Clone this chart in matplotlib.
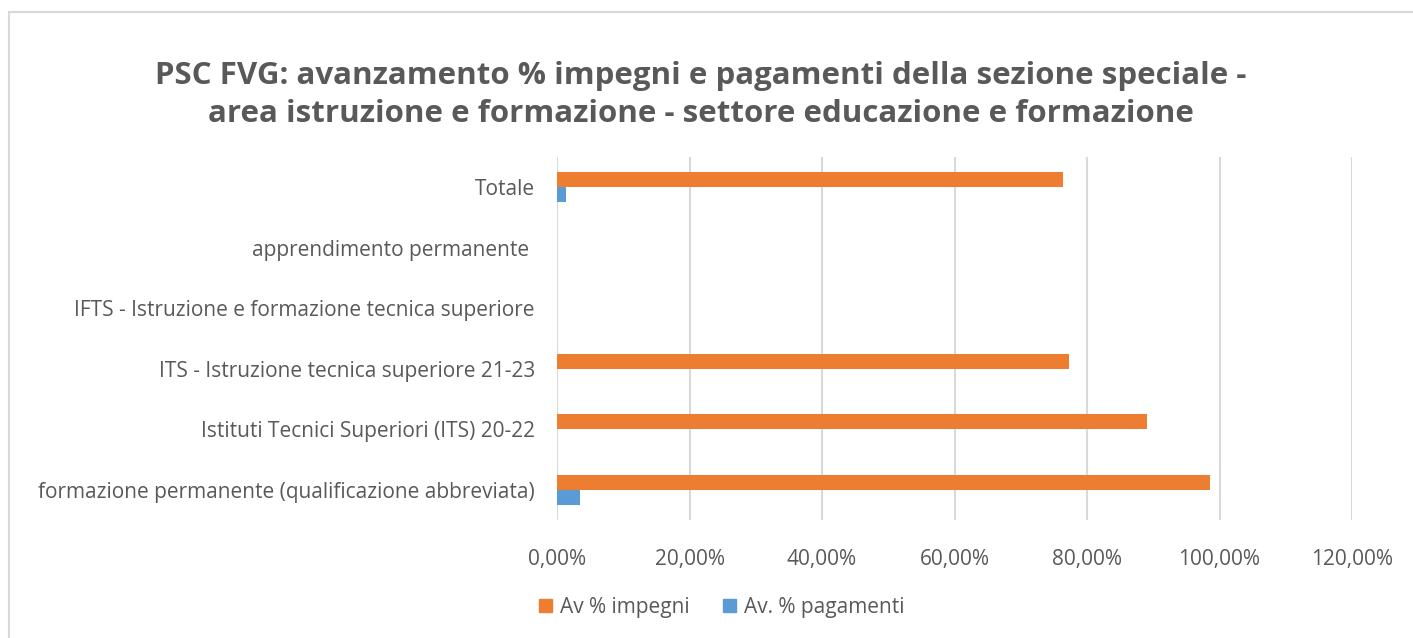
import numpy as np
import matplotlib.pyplot as plt
from matplotlib.patches import Patch, Rectangle
from matplotlib.ticker import FuncFormatter

plt.rcParams['font.family'] = ['Open Sans', 'DejaVu Sans']

categories = ['formazione permanente (qualificazione abbreviata)',
              'Istituti Tecnici Superiori (ITS) 20-22',
              'ITS - Istruzione tecnica superiore 21-23',
              'IFTS - Istruzione e formazione tecnica superiore',
              'apprendimento permanente ',
              'Totale']
impegni = [98.6, 89.0, 77.3, 0.0, 0.0, 76.4]
pagamenti = [3.4, 0.0, 0.0, 0.0, 0.0, 1.4]
xticks = [0, 20, 40, 60, 80, 100, 120]

orange = '#ED7D31'
blue = '#5B9BD5'
grey = '#595959'

fig = plt.figure(figsize=(14.13, 6.38), dpi=100)
ax = fig.add_axes([557 / 1413, 1 - 520 / 638, (1352 - 557) / 1413, (520 - 157) / 638])

y = np.arange(len(categories))
h = 0.25
ax.barh(y + h / 2, impegni, height=h, color=orange, linewidth=0, zorder=3)
ax.barh(y - h / 2, pagamenti, height=h, color=blue, linewidth=0, zorder=3)

ax.set_xlim(0, 120)
ax.set_ylim(-0.5, len(categories) - 0.5)
ax.set_xticks(xticks)
ax.xaxis.set_major_formatter(FuncFormatter(lambda v, p: f'{v:.2f}%'.replace('.', ',')))
ax.set_yticks(y)
ax.set_yticklabels(categories)
ax.tick_params(axis='both', length=0, labelsize=15, labelcolor=grey)
ax.tick_params(axis='x', pad=21)
ax.tick_params(axis='y', pad=16)
ax.grid(axis='x', color='#D9D9D9', linewidth=1.5, zorder=0)
for s in ax.spines.values():
    s.set_visible(False)

fig.text(701 / 1413, 1 - 95 / 638,
         'PSC FVG: avanzamento % impegni e pagamenti della sezione speciale -\n'
         'area istruzione e formazione - settore educazione e formazione',
         ha='center', va='center', fontsize=22.5, fontweight='bold', color=grey,
         linespacing=1.38)

handles = [Patch(color=orange, label='Av % impegni'),
           Patch(color=blue, label='Av. % pagamenti')]
fig.legend(handles=handles, loc='center', bbox_to_anchor=(722 / 1413, 1 - 607 / 638),
           ncol=2, frameon=False, fontsize=15, labelcolor=grey,
           handlelength=0.6, handleheight=0.6, handletextpad=0.4, columnspacing=1.6)

fig.patches.append(Rectangle((9 / 1413, -0.1), 1.2, 1 - 12 / 638 + 0.1,
                             transform=fig.transFigure, fill=False,
                             edgecolor='#D9D9D9', linewidth=1.5))

fig.savefig('out.png', dpi=100)
